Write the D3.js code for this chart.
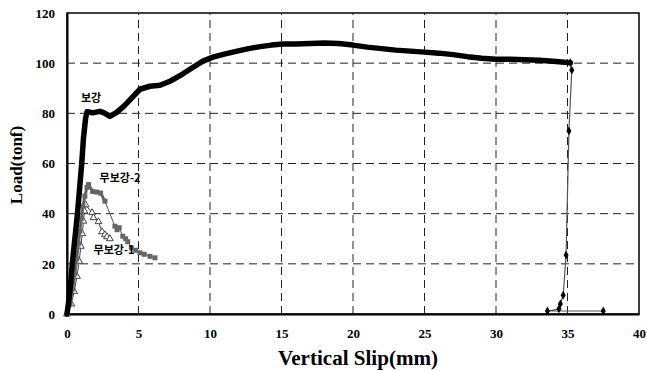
<!DOCTYPE html>
<html>
<head>
<meta charset="utf-8">
<script src="https://cdn.jsdelivr.net/npm/d3@7"></script>
<style>
  body { margin: 0; background: #fff; }
</style>
</head>
<body>
<div id="chart"></div>
<script>

// tick values
var xTicks = [0, 5, 10, 15, 20, 25, 30, 35, 40];
var yTicks = [0, 20, 40, 60, 80, 100, 120];

// 보강 (reinforced)
var bogangX = [0, 0.12, 0.25, 0.37, 0.55, 0.73, 0.88, 1.03, 1.15, 1.3, 1.4, 1.8, 2.3, 2.6, 3.0, 3.5, 4.0, 4.5, 5.1, 5.8, 6.5, 7.2, 7.9, 8.6, 9.5, 10.2, 11.0, 11.9, 12.7, 13.5, 14.3, 15.1, 16.0, 17.0, 18.0, 19.0, 20.0, 21.0, 22.0, 23.0, 24.0, 25.0, 26.0, 27.0, 28.0, 29.0, 30.0, 31.0, 32.0, 33.0, 34.0, 35.2];
var bogangY = [0, 5, 12, 20, 30, 40, 50, 60, 70, 78, 80.6, 80.2, 80.8, 80.2, 78.8, 80.5, 83, 86, 89.6, 90.8, 91.2, 92.8, 95, 97.6, 100.8, 102.4, 103.6, 104.8, 105.8, 106.6, 107.2, 107.6, 107.6, 107.8, 108, 107.8, 107.2, 106.4, 105.8, 105.2, 104.8, 104.4, 104, 103.4, 102.6, 102, 101.6, 101.6, 101.4, 101.2, 100.8, 100.2];

// 무보강-2 (gray squares)
var mu2X = [0, 0.2, 0.4, 0.55, 0.68, 0.8, 0.9, 1.0, 1.12, 1.25, 1.4, 1.5, 1.8, 2.1, 2.35, 2.65, 3.35, 3.5, 3.65, 3.9, 4.1, 4.25, 4.5, 4.8, 5.1, 5.4, 5.8, 6.15];
var mu2Y = [0, 4, 10, 16, 22, 28, 33, 38, 43, 47, 50.5, 51.6, 48.8, 48.6, 48.2, 45, 35, 33.6, 34.4, 31, 30, 28.8, 26.4, 25.4, 24.4, 23.8, 23, 22.4];

// 무보강-1 (open triangles)
var mu1X = [0, 0.3, 0.5, 0.7, 0.85, 0.97, 1.07, 1.15, 1.22, 1.3, 1.75, 1.85, 2.2, 2.45, 2.65, 2.8, 3.0];
var mu1Y = [0, 4, 9, 15, 21, 27, 32, 37, 41, 43.5, 40.4, 38.4, 36.8, 32.8, 31.6, 30.8, 30];

// unloading branch at the end
var dropX = [35.2, 35.3, 35.1, 34.9, 34.7, 34.5, 34.4, 33.6, 37.5];
var dropY = [100.2, 97.2, 73, 23.5, 7.5, 4, 2, 1.2, 1.2];

var width = 647, height = 371;
var margin = {left: 67, right: 8, top: 13, bottom: 57};
var serif = "'Liberation Serif', 'Times New Roman', Times, serif";

var svg = d3.select("#chart").append("svg")
	.attr("width", width)
	.attr("height", height);

var x = d3.scaleLinear().domain([0, 40]).range([margin.left, width - margin.right]);
var y = d3.scaleLinear().domain([0, 120]).range([height - margin.bottom, margin.top]);

function zip(xs, ys) {
	return xs.map(function(d, i) { return [d, ys[i]]; });
}

// dashed grid
svg.append("g")
	.selectAll("line")
	.data(xTicks.slice(1, -1))
	.enter().append("line")
	.attr("x1", function(d) { return x(d); })
	.attr("x2", function(d) { return x(d); })
	.attr("y1", y(0))
	.attr("y2", y(120))
	.attr("stroke", "#222")
	.attr("stroke-dasharray", "8,5");

svg.append("g")
	.selectAll("line")
	.data(yTicks.slice(1, -1))
	.enter().append("line")
	.attr("x1", x(0))
	.attr("x2", x(40))
	.attr("y1", function(d) { return y(d); })
	.attr("y2", function(d) { return y(d); })
	.attr("stroke", "#222")
	.attr("stroke-dasharray", "8,5");

// frame
svg.append("rect")
	.attr("x", x(0))
	.attr("y", y(120))
	.attr("width", x(40) - x(0))
	.attr("height", y(0) - y(120))
	.attr("fill", "none")
	.attr("stroke", "#000")
	.attr("stroke-width", 1.5);

// axes
var xAxis = svg.append("g")
	.attr("transform", "translate(0," + y(0) + ")")
	.call(d3.axisBottom(x).tickValues(xTicks).tickSize(0).tickPadding(15));

var yAxis = svg.append("g")
	.attr("transform", "translate(" + x(0) + ",0)")
	.call(d3.axisLeft(y).tickValues(yTicks).tickSize(0).tickPadding(12));

[xAxis, yAxis].forEach(function(a) {
	a.select(".domain").attr("stroke", "#000").attr("stroke-width", 2);
	a.selectAll("text")
		.style("font-family", serif)
		.style("font-weight", "bold")
		.style("font-size", "13px")
		.attr("fill", "#000");
});

// axis titles
svg.append("text")
	.attr("x", 358)
	.attr("y", 365)
	.attr("text-anchor", "middle")
	.attr("textLength", 160)
	.attr("lengthAdjust", "spacingAndGlyphs")
	.style("font-family", serif)
	.style("font-weight", "bold")
	.style("font-size", "20px")
	.text("Vertical Slip(mm)");

svg.append("text")
	.attr("transform", "translate(22,165) rotate(-90)")
	.attr("text-anchor", "middle")
	.style("font-family", serif)
	.style("font-weight", "bold")
	.style("font-size", "17px")
	.text("Load(tonf)");

var line = d3.line()
	.x(function(d) { return x(d[0]); })
	.y(function(d) { return y(d[1]); });

// 무보강-1 : open triangles
var mu1 = zip(mu1X, mu1Y);
svg.append("path")
	.datum(mu1)
	.attr("d", line)
	.attr("fill", "none")
	.attr("stroke", "#444")
	.attr("stroke-width", 1);

svg.selectAll(".tri")
	.data(mu1)
	.enter().append("path")
	.attr("class", "tri")
	.attr("d", d3.symbol().type(d3.symbolTriangle).size(20))
	.attr("transform", function(d) { return "translate(" + x(d[0]) + "," + y(d[1]) + ")"; })
	.attr("fill", "#fff")
	.attr("stroke", "#444")
	.attr("stroke-width", 1);

// 무보강-2 : gray squares
var mu2 = zip(mu2X, mu2Y);
svg.append("path")
	.datum(mu2.slice(0, 16))
	.attr("d", line)
	.attr("fill", "none")
	.attr("stroke", "#6e6e6e")
	.attr("stroke-width", 3);

svg.append("path")
	.datum(mu2)
	.attr("d", line)
	.attr("fill", "none")
	.attr("stroke", "#555")
	.attr("stroke-width", 1);

svg.selectAll(".sq")
	.data(mu2)
	.enter().append("rect")
	.attr("class", "sq")
	.attr("x", function(d) { return x(d[0]) - 2.5; })
	.attr("y", function(d) { return y(d[1]) - 2.5; })
	.attr("width", 5)
	.attr("height", 5)
	.attr("fill", "#666");

// 보강 : thick black line
svg.append("path")
	.datum(zip(bogangX, bogangY))
	.attr("d", line)
	.attr("fill", "none")
	.attr("stroke", "#000")
	.attr("stroke-width", 5.5)
	.attr("stroke-linejoin", "round")
	.attr("stroke-linecap", "round");

// unloading branch
var drop = zip(dropX, dropY);
svg.append("path")
	.datum(drop)
	.attr("d", line)
	.attr("fill", "none")
	.attr("stroke", "#555")
	.attr("stroke-width", 1.2);

svg.selectAll(".dia")
	.data(drop)
	.enter().append("path")
	.attr("class", "dia")
	.attr("d", d3.symbol().type(d3.symbolDiamond).size(22))
	.attr("transform", function(d) { return "translate(" + x(d[0]) + "," + y(d[1]) + ")"; })
	.attr("fill", "#000");

// series labels
var labels = [
	{t: "보강", x: 91, y: 102},
	{t: "무보강-2", x: 120, y: 182},
	{t: "무보강-1", x: 114, y: 254}
];

svg.selectAll(".kr")
	.data(labels)
	.enter().append("text")
	.attr("class", "kr")
	.attr("x", function(d) { return d.x; })
	.attr("y", function(d) { return d.y; })
	.attr("text-anchor", "middle")
	.style("font-family", "'Noto Sans CJK KR', sans-serif")
	.style("font-weight", "bold")
	.style("font-size", "11px")
	.attr("fill", "#000")
	.text(function(d) { return d.t; });

</script>
</body>
</html>
